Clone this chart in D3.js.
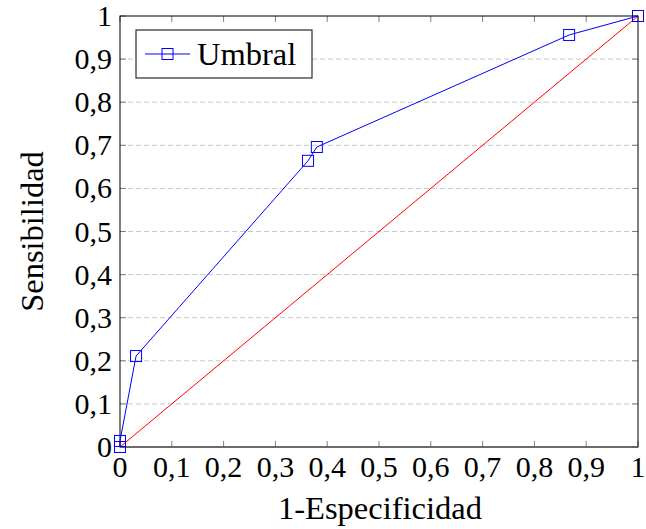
<!DOCTYPE html>
<html>
<head>
<meta charset="utf-8">
<script src="https://cdn.jsdelivr.net/npm/d3@7"></script>
<style>
  body { margin: 0; background: #fff; }
  text { font-family: "Liberation Serif", "DejaVu Serif", serif; fill: #000; }
</style>
</head>
<body>
<svg id="chart" width="646" height="529"></svg>
<script>
// puntos de la curva ROC
var fpr = [0, 0, 0.031, 0.363, 0.380, 0.867, 1];
var tpr = [0, 0.014, 0.211, 0.664, 0.696, 0.956, 1];
var diagX = [0, 1];
var diagY = [0, 1];
var tickVals = [0, 0.1, 0.2, 0.3, 0.4, 0.5, 0.6, 0.7, 0.8, 0.9, 1];
var tickLabels = ["0", "0,1", "0,2", "0,3", "0,4", "0,5", "0,6", "0,7", "0,8", "0,9", "1"];
var seriesName = "Umbral";

var L = 120, R = 638, T = 16, B = 447;
var svg = d3.select("#chart");
var x = d3.scaleLinear().domain([0, 1]).range([L, R]);
var y = d3.scaleLinear().domain([0, 1]).range([B, T]);

// rejilla horizontal
svg.append("g").selectAll("line").data(tickVals.slice(1, -1)).enter().append("line")
  .attr("x1", L).attr("x2", R)
  .attr("y1", function(d) { return y(d); }).attr("y2", function(d) { return y(d); })
  .attr("stroke", "#c8c8c8").attr("stroke-width", 1).attr("stroke-dasharray", "5,3");

// marcas de los ejes (hacia dentro)
var tk = svg.append("g").attr("stroke", "#808080").attr("stroke-width", 1);
tickVals.forEach(function(v) {
  tk.append("line").attr("x1", x(v)).attr("x2", x(v)).attr("y1", B).attr("y2", B - 6);
  tk.append("line").attr("x1", x(v)).attr("x2", x(v)).attr("y1", T).attr("y2", T + 6);
  tk.append("line").attr("y1", y(v)).attr("y2", y(v)).attr("x1", L).attr("x2", L + 6);
  tk.append("line").attr("y1", y(v)).attr("y2", y(v)).attr("x1", R).attr("x2", R - 6);
});

// marco
svg.append("rect").attr("x", L).attr("y", T).attr("width", R - L).attr("height", B - T)
  .attr("fill", "none").attr("stroke", "#000").attr("stroke-width", 1);
svg.append("line").attr("x1", L).attr("x2", R).attr("y1", B).attr("y2", B)
  .attr("stroke", "#666").attr("stroke-width", 1.6);

// etiquetas de los ejes
svg.append("g").selectAll("text").data(tickVals).enter().append("text")
  .attr("x", function(d) { return x(d); }).attr("y", B + 30)
  .attr("text-anchor", "middle").attr("font-size", 30)
  .text(function(d, i) { return tickLabels[i]; });
svg.append("g").selectAll("text").data(tickVals).enter().append("text")
  .attr("x", L - 8).attr("y", function(d) { return y(d) + 10; })
  .attr("text-anchor", "end").attr("font-size", 30)
  .text(function(d, i) { return tickLabels[i]; });

svg.append("text").attr("x", (L + R) / 2 + 1).attr("y", 519)
  .attr("text-anchor", "middle").attr("font-size", 32.5).text("1-Especificidad");
svg.append("text").attr("transform", "translate(43," + ((T + B) / 2) + ") rotate(-90)")
  .attr("text-anchor", "middle").attr("font-size", 32.5).text("Sensibilidad");

// diagonal
var line = d3.line().x(function(d) { return x(d[0]); }).y(function(d) { return y(d[1]); });
svg.append("path").datum(d3.zip(diagX, diagY)).attr("d", line)
  .attr("fill", "none").attr("stroke", "#ff0000").attr("stroke-width", 1);

// curva
var pts = d3.zip(fpr, tpr);
svg.append("path").datum(pts).attr("d", line)
  .attr("fill", "none").attr("stroke", "#0000ff").attr("stroke-width", 1);
svg.append("g").selectAll("rect").data(pts).enter().append("rect")
  .attr("x", function(d) { return x(d[0]) - 5.5; }).attr("y", function(d) { return y(d[1]) - 5.5; })
  .attr("width", 11).attr("height", 11)
  .attr("fill", "none").attr("stroke", "#0000ff").attr("stroke-width", 1);

// leyenda
var lg = svg.append("g");
lg.append("rect").attr("x", 136).attr("y", 30).attr("width", 176).attr("height", 48)
  .attr("fill", "#fff").attr("stroke", "#000").attr("stroke-width", 1);
lg.append("line").attr("x1", 145).attr("x2", 190).attr("y1", 54).attr("y2", 54)
  .attr("stroke", "#0000ff").attr("stroke-width", 1);
lg.append("rect").attr("x", 162).attr("y", 48.5).attr("width", 11).attr("height", 11)
  .attr("fill", "none").attr("stroke", "#0000ff").attr("stroke-width", 1);
lg.append("text").attr("x", 197).attr("y", 65).attr("font-size", 32.5).text(seriesName);
</script>
</body>
</html>
